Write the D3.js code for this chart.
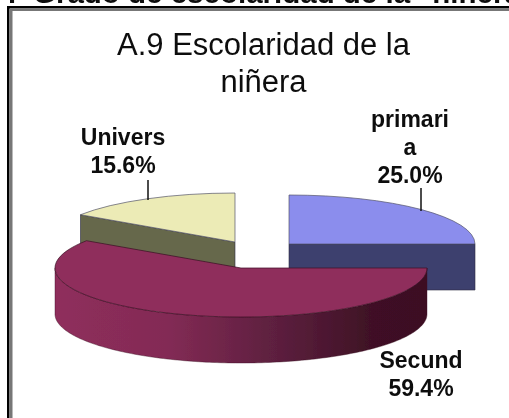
<!DOCTYPE html>
<html>
<head>
<meta charset="utf-8">
<script src="https://cdn.jsdelivr.net/npm/d3@7"></script>
<style>
  body { margin: 0; background: #fff; }
  svg { display: block; }
  text { font-family: "Liberation Sans", Arial, sans-serif; fill: #111; }
</style>
</head>
<body>
<div id="chart"></div>
<script>
// DATA
const categories = ["primari", "Secund", "Univers"];
const values = [25.0, 59.4, 15.6];
const labelLines = [["primari", "a", "25.0%"], ["Secund", "59.4%"], ["Univers", "15.6%"]];
const titleLines = ["A.9 Escolaridad de la", "niñera"];
const headerText = "Grado de escolaridad de la \"niñera\"";

// LAYOUT
const width = 509;
const height = 418;
const rx = 186;
const ry = 49;
const depth = 46;
const centers = { primari: [289, 244], Secund: [241, 268], Univers: [235, 242] };
const topColors = { primari: "#8b8ded", Secund: "#8f2e5c", Univers: "#ecebb6" };
const sideColors = { primari: "#3e3f6e", Univers: "#66674c" };
const labelPos = { primari: [410, 127], Secund: [421, 368], Univers: [123, 145] };
const lineHeight = 28;

const svg = d3.select("#chart").append("svg")
  .attr("width", width)
  .attr("height", height);

const defs = svg.append("defs");
defs.append("filter").attr("id", "soft")
  .append("feGaussianBlur").attr("stdDeviation", 0.5);

// gradient on the round wall of the big slice
const wallGrad = defs.append("linearGradient")
  .attr("id", "wallGrad")
  .attr("gradientUnits", "userSpaceOnUse")
  .attr("x1", centers.Secund[0] - rx).attr("x2", centers.Secund[0] + rx)
  .attr("y1", 0).attr("y2", 0);
wallGrad.append("stop").attr("offset", "0").attr("stop-color", "#8f2e5c");
wallGrad.append("stop").attr("offset", "0.3").attr("stop-color", "#832b55");
wallGrad.append("stop").attr("offset", "0.6").attr("stop-color", "#5c1f3e");
wallGrad.append("stop").attr("offset", "0.85").attr("stop-color", "#3f1125");
wallGrad.append("stop").attr("offset", "1").attr("stop-color", "#3d1024");

const root = svg.append("g").attr("filter", "url(#soft)");

// FRAME + clipped heading above it
root.append("text")
  .attr("x", 8).attr("y", 3)
  .style("font-size", "29px").style("font-weight", "bold")
  .text(".");
root.append("text")
  .attr("x", 33).attr("y", 3)
  .style("font-size", "29.5px").style("font-weight", "bold")
  .text(headerText);
root.append("rect").attr("x", 7).attr("y", 6).attr("width", width - 7).attr("height", 2.5).attr("fill", "#000");
root.append("rect").attr("x", 7).attr("y", 6).attr("width", 2.5).attr("height", height - 6).attr("fill", "#000");
root.append("rect").attr("x", 10).attr("y", 9).attr("width", width - 10).attr("height", 2).attr("fill", "#777");
root.append("rect").attr("x", 10).attr("y", 9).attr("width", 2.5).attr("height", height - 9).attr("fill", "#777");

// PIE
const pie = d3.pie().sort(null).value(d => d)(values);
const arc = d3.arc().innerRadius(0).outerRadius(rx);
const px = (c, a) => c[0] + rx * Math.sin(a);
const py = (c, a) => c[1] - ry * Math.cos(a);

// draw order: back slices first, the big one on top
const order = ["Univers", "primari", "Secund"];
order.forEach(name => {
  const p = pie[categories.indexOf(name)];
  const c = centers[name];
  const g = root.append("g");

  if (name === "Secund") {
    // round wall, only the part that faces the viewer
    const angles = d3.range(p.startAngle, Math.min(p.endAngle, 3 * Math.PI / 2) + 0.001, 0.02);
    const wall = d3.area()
      .x(a => px(c, a))
      .y0(a => py(c, a))
      .y1(a => py(c, a) + depth);
    g.append("path")
      .attr("d", wall(angles))
      .attr("fill", "url(#wallGrad)")
      .attr("stroke", "#3a1022").attr("stroke-width", 0.4);
  } else {
    // flat cut face: apex to the rim at the angle that faces front
    const a = name === "primari" ? p.endAngle : p.startAngle;
    const face = d3.area().x(d => d[0]).y0(d => d[1]).y1(d => d[1] + depth);
    g.append("path")
      .attr("d", face([c, [px(c, a), py(c, a)]]))
      .attr("fill", sideColors[name])
      .attr("stroke", "#2c2c40").attr("stroke-width", 0.6);
  }

  g.append("path")
    .attr("transform", `translate(${c[0]},${c[1]}) scale(1,${ry / rx})`)
    .attr("d", arc(p))
    .attr("fill", topColors[name])
    .attr("stroke", name === "Secund" ? "#3a1022" : "#55556a")
    .attr("stroke-width", 0.7)
    .attr("vector-effect", "non-scaling-stroke");
});

// leader lines
const leaders = [[148, 180, 200], [421, 188, 211]];
root.selectAll("line.leader").data(leaders).enter().append("line")
  .attr("class", "leader")
  .attr("x1", d => d[0]).attr("x2", d => d[0])
  .attr("y1", d => d[1]).attr("y2", d => d[2])
  .attr("stroke", "#111").attr("stroke-width", 1.5);

// TITLE
root.selectAll("text.title").data(titleLines).enter().append("text")
  .attr("class", "title")
  .attr("x", 263.5)
  .attr("y", (d, i) => 55 + i * 37)
  .attr("text-anchor", "middle")
  .style("font-size", "31px")
  .text(d => d);

// LABELS
categories.forEach((name, i) => {
  const pos = labelPos[name];
  root.append("g").selectAll("text").data(labelLines[i]).enter().append("text")
    .attr("x", pos[0])
    .attr("y", (d, j) => pos[1] + j * lineHeight)
    .attr("text-anchor", "middle")
    .style("font-size", "23px")
    .style("font-weight", "bold")
    .text(d => d);
});
</script>
</body>
</html>
